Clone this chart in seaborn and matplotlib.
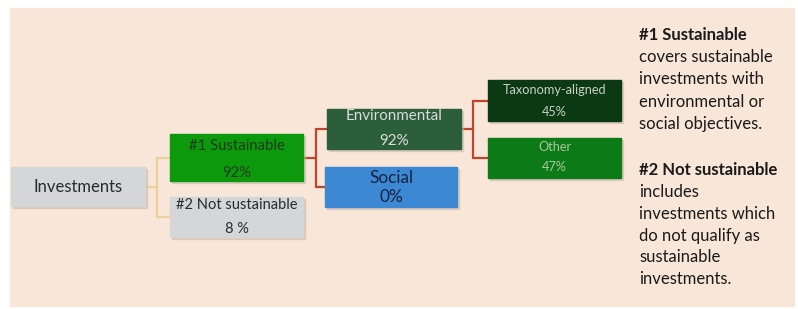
import matplotlib.pyplot as plt
import seaborn as sns
from matplotlib.patches import Rectangle

sns.set_theme(style="white")
plt.rcParams['font.family'] = ['Lato', 'DejaVu Sans']

# tree data
nodes = ['Investments', '#1 Sustainable', '#2 Not sustainable', 'Environmental',
         'Social', 'Taxonomy-aligned', 'Other']
values = ['', '92%', '8 %', '92%', '0%', '45%', '47%']
parents = [None, 'Investments', 'Investments', '#1 Sustainable', '#1 Sustainable',
           'Environmental', 'Environmental']

note_1_title = '#1 Sustainable'
note_1_body = ['covers sustainable', 'investments with', 'environmental or', 'social objectives.']
note_2_title = '#2 Not sustainable'
note_2_body = ['includes', 'investments which', 'do not qualify as', 'sustainable', 'investments.']

# layout in pixels: x0, y0, x1, y1
boxes = {
    'Investments': (11, 167, 145, 206),
    '#1 Sustainable': (170, 134, 303, 181),
    '#2 Not sustainable': (170, 197, 303, 237),
    'Environmental': (327, 109, 461, 149),
    'Social': (325, 167, 457, 207),
    'Taxonomy-aligned': (488, 80, 621, 121),
    'Other': (488, 138, 621, 178),
}
fills = {
    'Investments': '#d5d6d8', '#1 Sustainable': '#0c9a0c', '#2 Not sustainable': '#d5d6d8',
    'Environmental': '#2b5e3a', 'Social': '#3d88d2', 'Taxonomy-aligned': '#0b3a12',
    'Other': '#0c7a16',
}
text_col = {
    'Investments': '#2a2a2a', '#1 Sustainable': '#1c3a1c', '#2 Not sustainable': '#2a2a2a',
    'Environmental': '#dcdcdc', 'Social': '#17233f', 'Taxonomy-aligned': '#c8cfc8',
    'Other': '#a8c8a0',
}
sizes = {'Investments': 12, '#1 Sustainable': 10.7, '#2 Not sustainable': 10.5,
         'Environmental': 10.9, 'Social': 12.4, 'Taxonomy-aligned': 9.2, 'Other': 9.2}
label_y = {'#1 Sustainable': 146, '#2 Not sustainable': 205, 'Environmental': 116,
           'Social': 178, 'Taxonomy-aligned': 90, 'Other': 147}
value_y = {'#1 Sustainable': 173, '#2 Not sustainable': 229, 'Environmental': 141,
           'Social': 197, 'Taxonomy-aligned': 112, 'Other': 167}
link_col = {'Investments': '#ebd19c', '#1 Sustainable': '#c0452c', 'Environmental': '#c0452c'}
elbow_x = {'Investments': 157, '#1 Sustainable': 316, 'Environmental': 473}

fig, ax = plt.subplots(figsize=(7.98, 3.09), dpi=100)
fig.subplots_adjust(0, 0, 1, 1)
ax.set_xlim(0, 798)
ax.set_ylim(309, 0)
ax.axis('off')

ax.add_patch(Rectangle((10, 8), 784, 298, color='#f8e6d8', zorder=0))

# connectors
for parent in elbow_x:
    px0, py0, px1, py1 = boxes[parent]
    kids = [n for n, p in zip(nodes, parents) if p == parent]
    ys = [(boxes[k][1] + boxes[k][3]) / 2 for k in kids]
    ex = elbow_x[parent]
    c = link_col[parent]
    ax.plot([px1, ex], [(py0 + py1) / 2] * 2, color=c, lw=1.6, zorder=1)
    ax.plot([ex, ex], [min(ys), max(ys)], color=c, lw=1.6, zorder=1)
    for k, y in zip(kids, ys):
        ax.plot([ex, boxes[k][0]], [y, y], color=c, lw=1.6, zorder=1)

# boxes
for name, val in zip(nodes, values):
    x0, y0, x1, y1 = boxes[name]
    ax.add_patch(Rectangle((x0 + 2, y0 + 2), x1 - x0, y1 - y0, color='#c9b8ab', alpha=0.5, zorder=2))
    ax.add_patch(Rectangle((x0, y0), x1 - x0, y1 - y0, color=fills[name], zorder=3))
    cx = (x0 + x1) / 2
    if val == '':
        ax.text(cx, (y0 + y1) / 2, name, ha='center', va='center',
                fontsize=sizes[name], color=text_col[name], zorder=4)
    else:
        ax.text(cx, label_y[name], name, ha='center', va='center',
                fontsize=sizes[name], color=text_col[name], zorder=4)
        ax.text(cx, value_y[name], val, ha='center', va='center',
                fontsize=sizes[name], color=text_col[name], zorder=4)

# notes on the right
tx = 639
ax.text(tx, 35, note_1_title, fontsize=12, fontweight='bold', color='#1a1a1a', va='center')
for i, line in enumerate(note_1_body):
    ax.text(tx, 57 + 22.3 * i, line, fontsize=12, color='#1a1a1a', va='center')
ax.text(tx, 170, note_2_title, fontsize=12, fontweight='bold', color='#1a1a1a', va='center')
for i, line in enumerate(note_2_body):
    ax.text(tx, 192 + 21.8 * i, line, fontsize=12, color='#1a1a1a', va='center')

plt.savefig('out.png', dpi=100)
